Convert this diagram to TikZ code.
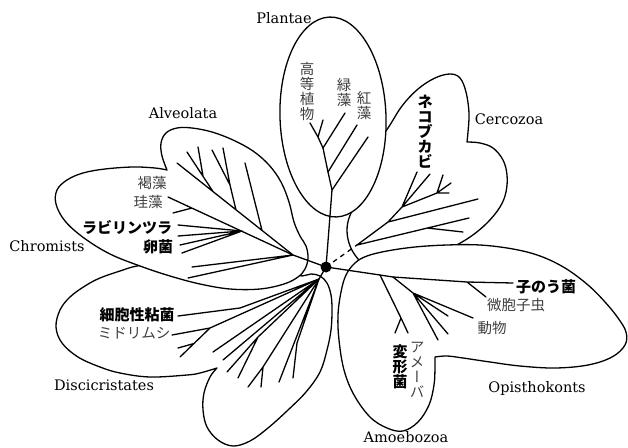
\documentclass[tikz,border=0pt]{standalone}
\usepackage{fontspec}
\setmainfont{DejaVu Serif}
\newfontfamily\cjk{Noto Sans CJK JP}
\newfontfamily\cjkv[RawFeature=+vert]{Noto Sans CJK JP}
\begin{document}
\begin{tikzpicture}[x=1pt,y=-1pt,
  lobe/.style={draw=black, fill=white, line width=1.3pt, line join=round},
  br/.style={line width=1.3pt, line cap=round, line join=round},
  lat/.style={font=\fontsize{14.5}{17}\selectfont, inner sep=0pt},
  jr/.style={font=\fontsize{14.5}{15}\selectfont\cjk, text=black!75, inner sep=0pt, align=center},
  jrv/.style={font=\fontsize{14.5}{15}\selectfont\cjkv, text=black!75, inner sep=0pt, align=center},
  jb/.style={font=\fontsize{15}{15}\selectfont\cjk\bfseries, inner sep=0pt, align=center}]
\useasboundingbox (0,0) rectangle (628,447);

% ---------- lobes (back to front) ----------
% Discicristates + lower lobe
\draw[lobe] plot[smooth, tension=0.6] coordinates {(217,368) (200,373) (187,375) (150,377) (120,373) (100,367) (78,357) (62,343) (56,327) (60,310) (70,297) (85,286) (100,278) (120,271) (137,266) (160,264) (200,272) (250,276) (290,274) (302,276) (311,274) (320,276) (327,283) (331,295) (332,310) (331,330) (327,350) (320,372) (306,392) (288,410) (268,428) (250,441) (233,446) (218,440) (207,427) (203,410) (204,393) (210,377) (217,368)} -- cycle;
% Cercozoa
\draw[lobe] plot[smooth, tension=0.6] coordinates {(372,150) (388,128) (402,106) (418,89) (435,78) (450,74) (460,78) (466,92) (469,113) (468,132) (467,142)}
  -- plot[smooth, tension=0.6] coordinates {(467,142) (480,143) (493,148) (503,160) (507,175) (506,192) (500,207) (487,223) (470,237) (450,248) (420,258)}
  -- plot[smooth, tension=0.6] coordinates {(420,258) (385,262) (365,264) (355,255) (349,243) (347,230) (349,218) (354,207) (362,190) (372,150)} -- cycle;
% Chromists + Alveolata
\draw[lobe] plot[smooth, tension=0.6] coordinates {(167,170) (162,156) (161,143) (166,133) (177,128) (192,128) (212,132) (233,140) (253,151) (269,165) (281,182) (289,202) (294,222) (300,236) (306,246) (308,258) (305,269) (298,277) (284,284) (260,289) (230,289) (200,284) (170,276) (140,266) (110,254) (84,238) (65,221) (56,204) (57,190) (67,180) (83,173) (105,169) (133,167) (155,168) (167,170)} -- cycle;
% Plantae
\draw[lobe, rotate around={2:(333,117)}] (333,117) ellipse [x radius=53, y radius=100];
% Opisthokonts + Amoebozoa
\draw[lobe] plot[smooth, tension=0.6] coordinates {(435,357) (447,356) (463,358) (490,362) (520,366) (555,368) (588,365) (612,357) (625,345) (626,332) (618,318) (605,302) (588,285) (565,268) (540,256) (513,249) (480,245) (447,245) (415,247) (387,251) (367,256) (355,263) (346,275) (341,292) (338,315) (339,340) (344,370) (354,395) (370,417) (387,428) (403,431) (418,422) (429,405) (434,385) (435,367) (435,357)} -- cycle;

% ---------- tree ----------
\coordinate (C) at (326,267);
% Plantae
\coordinate (p0) at (332,190); \coordinate (p1) at (328,172); \coordinate (p2) at (323,148);
\coordinate (p3) at (318,137); \coordinate (ptip) at (310,123);
\coordinate (pa) at (368,137); \coordinate (pb) at (357,125); \coordinate (pc) at (345,113); \coordinate (pd) at (323,120);
\draw[br] (C) -- (p0) -- (p1) -- (p2) -- (p3) -- (ptip);
\draw[br] (p0) -- (pa) (p1) -- (pb) (p2) -- (pc) (p3) -- (pd);
% Cercozoa
\coordinate (r1) at (357,245); \coordinate (rt1) at (469,218); \coordinate (rb) at (427,228); \coordinate (rt2) at (463,232);
\coordinate (n1) at (388,222); \coordinate (rt3) at (478,199); \coordinate (n2) at (402,207);
\coordinate (rt4) at (417,172); \coordinate (rt5) at (430,174); \coordinate (n3) at (437,193);
\coordinate (rt6) at (443,175); \coordinate (rt7) at (451,183); \coordinate (rt8) at (449,193);
\draw[br, dash pattern=on 4pt off 5pt] (C) -- (r1);
\draw[br] (r1) -- (rt1) (rb) -- (rt2) (r1) -- (n1) -- (rt3) (n1) -- (n2) -- (rt4) (n2) -- (rt5) (n2) -- (n3) -- (rt6) (n3) -- (rt7) (n3) -- (rt8);
% Opisthokonts / Amoebozoa
\coordinate (j1) at (380,275); \coordinate (j2) at (393,277); \coordinate (q) at (467,282); \coordinate (ot) at (513,283);
\coordinate (qt) at (486,297); \coordinate (n4) at (413,293);
\coordinate (o1) at (448,316); \coordinate (o2) at (473,318); \coordinate (o3) at (448,334); \coordinate (o4) at (438,340);
\coordinate (k) at (401,318); \coordinate (kt1) at (408,333); \coordinate (kt2) at (395,333);
\draw[br] (C) -- (j1) -- (j2) -- (q) -- (ot) (q) -- (qt);
\draw[br] (j2) -- (n4) -- (o1) (n4) -- (o2) (n4) -- (o3) (n4) -- (o4);
\draw[br] (j1) -- (k) -- (kt1) (k) -- (kt2);
% Chromists
\coordinate (j3) at (293,255); \coordinate (cl1) at (192,267); \coordinate (cl2) at (188,278);
\coordinate (kei0) at (168,197); \coordinate (h) at (242,231); \coordinate (g) at (192,208); \coordinate (gt) at (173,213);
\coordinate (h1) at (178,225); \coordinate (h2) at (178,236); \coordinate (h3) at (180,245); \coordinate (h4) at (182,253);
\draw[br] (C) -- (j3) -- (cl1) (j3) -- (cl2) (j3) -- (kei0) (g) -- (gt);
\draw[br] (h) -- (h1) (h) -- (h2) (h) -- (h3) (h) -- (h4);
% Alveolata
\coordinate (a0) at (177,163); \coordinate (a1) at (213,191.5); \coordinate (a1t) at (187,152);
\coordinate (ab) at (203,176); \coordinate (abt) at (198,147);
\coordinate (a2) at (236,210); \coordinate (a2n) at (230,185); \coordinate (a2t) at (212,150); \coordinate (a2u) at (223,148);
\coordinate (a3) at (262,230.4); \coordinate (a3t) at (245,163);
\draw[br] (j3) -- (a0) (a1) -- (a1t) (ab) -- (abt) (a2) -- (a2n) -- (a2t) (a2n) -- (a2u) (a3) -- (a3t);
% Discicristates / lower lobe
\coordinate (d0) at (319,279); \coordinate (d1) at (240,308); \coordinate (d1t) at (178,316);
\coordinate (e1) at (210,328); \coordinate (e1t) at (172,335); \coordinate (e1u) at (180,357);
\coordinate (e1s) at (194,343.5); \coordinate (e1st) at (178,348);
\coordinate (dt3) at (213,352); \coordinate (dt4) at (223,360);
\coordinate (e2) at (258,337); \coordinate (e2a) at (227,372); \coordinate (e2b) at (238,378);
\coordinate (e3) at (263,367); \coordinate (e3a) at (248,387); \coordinate (e3b) at (261,387);
\coordinate (dt7) at (279,382); \coordinate (e4) at (297,343); \coordinate (e4t) at (293,378);
\draw[br] (C) -- (d0) -- (d1) -- (d1t) (d0) -- (e1) -- (e1t) (e1) -- (e1u) (e1s) -- (e1st);
\draw[br] (d0) -- (dt3) (d0) -- (dt4) (d0) -- (e2) -- (e2a) (e2) -- (e2b);
\draw[br] (d0) -- (e3) -- (e3a) (e3) -- (e3b) (d0) -- (dt7) (d0) -- (e4) -- (e4t);

\fill (C) circle [radius=5.5];

% ---------- labels ----------
\node[lat] (plantae) at (284,18) {Plantae};
\node[lat] (alveolata) at (183,113) {Alveolata};
\node[lat] (cercozoa) at (509,119) {Cercozoa};
\node[lat] (chromists) at (47,246) {Chromists};
\node[lat] (disc) at (104,385) {Discicristates};
\node[lat] (opis) at (537,388) {Opisthokonts};
\node[lat] (amoe) at (406,437) {Amoebozoa};

\node[jr] (koutou) at (307,91) {高\\等\\植\\物};
\node[jr] (ryoku) at (344,92) {緑\\藻};
\node[jr] (kou) at (364,105) {紅\\藻};
\node[jb] (nekobu) at (425,132) {ネ\\コ\\ブ\\カ\\ビ};
\node[jr] (katsu) at (152,183) {褐藻};
\node[jr] (kei) at (148,202) {珪藻};
\node[jb] (rabi) at (127,227) {ラビリンツラ};
\node[jb] (ran) at (158,247) {卵菌};
\node[jb] (saibou) at (137,315) {細胞性粘菌};
\node[jr] (midori) at (134,333) {ミドリムシ};
\node[jb] (shinou) at (546,287) {子のう菌};
\node[jr] (bihou) at (516,305) {微胞子虫};
\node[jr] (doubutsu) at (492,328) {動物};
\node[jb] (henkei) at (400,367) {変\\形\\菌};
\node[jrv] (ameba) at (417,370) {ア\\メ\\ー\\バ};
\end{tikzpicture}
\end{document}
